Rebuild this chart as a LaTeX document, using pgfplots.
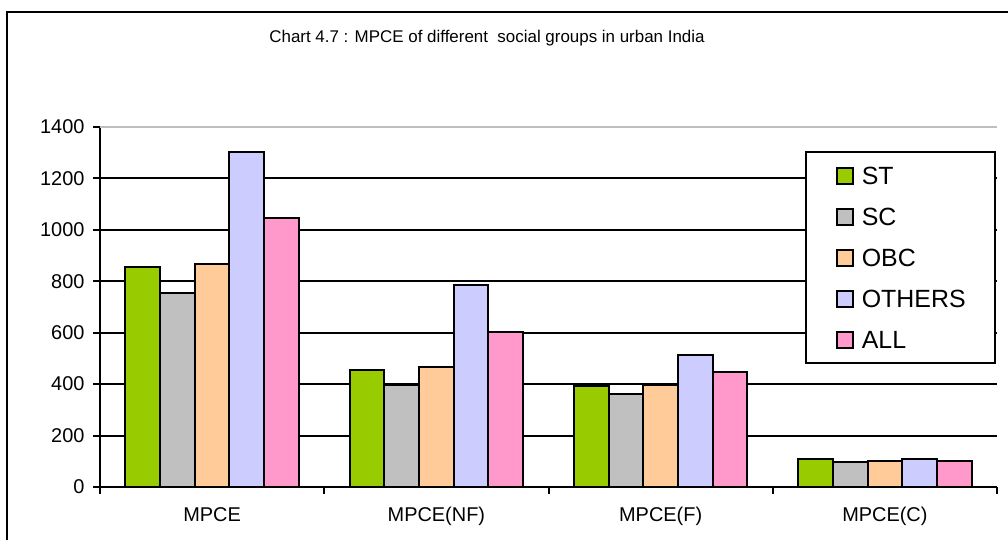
\documentclass[border=0pt]{standalone}
\usepackage{pgfplots}
\pgfplotsset{compat=1.18}
\usepackage{fontspec}
\setmainfont{Liberation Sans}
\definecolor{cST}{RGB}{153,204,0}
\definecolor{cSC}{RGB}{192,192,192}
\definecolor{cOBC}{RGB}{255,204,153}
\definecolor{cOTH}{RGB}{204,204,255}
\definecolor{cALL}{RGB}{255,153,204}
\pgfplotstableread{
x ST SC OBC OTH ALL
0 855 754 867 1301 1048
1 455 395 467 787 602
2 392 360 397 512 446
3 107 97 103 107 102
}\data
\begin{document}
\begin{tikzpicture}[x=1bp,y=1bp]
\useasboundingbox (0,0) rectangle (1008,540);
\draw[line width=2.5bp] (7,-5) -- (7,528) -- (1015,528);
\node[font=\fontsize{17}{20}\selectfont] at (487,502) {Chart 4.7 : MPCE of different\ \ social groups in urban India};
\begin{axis}[
  at={(100bp,53bp)}, anchor=south west,
  scale only axis, width=897bp, height=360bp,
  xmin=-0.5, xmax=3.5, ymin=0, ymax=1400,
  ybar=0pt, bar width=34.7bp,
  axis x line*=bottom, axis y line*=left,
  axis line style={-, line width=2bp, black},
  xtick={0,1,2,3},
  xticklabels={MPCE,MPCE(NF),MPCE(F),MPCE(C)},
  minor xtick={-0.5,0.5,1.5,2.5,3.5},
  every major x tick/.style={draw=none},
  every minor x tick/.style={black, line width=2bp},
  ytick={0,200,...,1400},
  every major y tick/.style={black, line width=2bp},
  major tick length=7bp, minor tick length=7bp,
  tick align=outside,
  ymajorgrids, grid style={black, line width=2bp},
  /pgf/number format/assume math mode=true,
  /pgf/number format/1000 sep={},
  yticklabel style={font=\fontsize{20}{24}\selectfont, xshift=-5bp},
  xticklabel style={font=\fontsize{20}{24}\selectfont, yshift=-10bp},
  scaled y ticks=false,
  every axis plot/.append style={draw=black, line width=2bp},
  legend cell align=left,
  legend image code/.code={\draw[#1, line width=2bp] (0bp,-8bp) rectangle (16bp,8bp);},
  legend style={at={(0.999,0.933)}, anchor=north east, draw=black, line width=2bp, fill=white,
    font=\fontsize{25}{30}\selectfont, row sep=23bp, inner xsep=29.5bp, inner ysep=14.5bp,
    nodes={inner sep=0pt, text height=18bp, text depth=0bp},
    column sep=8bp},
]
\addplot[fill=cST] table[x=x,y=ST]{\data};
\addplot[fill=cSC] table[x=x,y=SC]{\data};
\addplot[fill=cOBC] table[x=x,y=OBC]{\data};
\addplot[fill=cOTH] table[x=x,y=OTH]{\data};
\addplot[fill=cALL] table[x=x,y=ALL]{\data};
\legend{ST,SC,OBC,OTHERS,ALL}
\draw[gray!50, line width=2bp] (rel axis cs:0,1) -- (rel axis cs:1,1);
\end{axis}
\end{tikzpicture}
\end{document}
